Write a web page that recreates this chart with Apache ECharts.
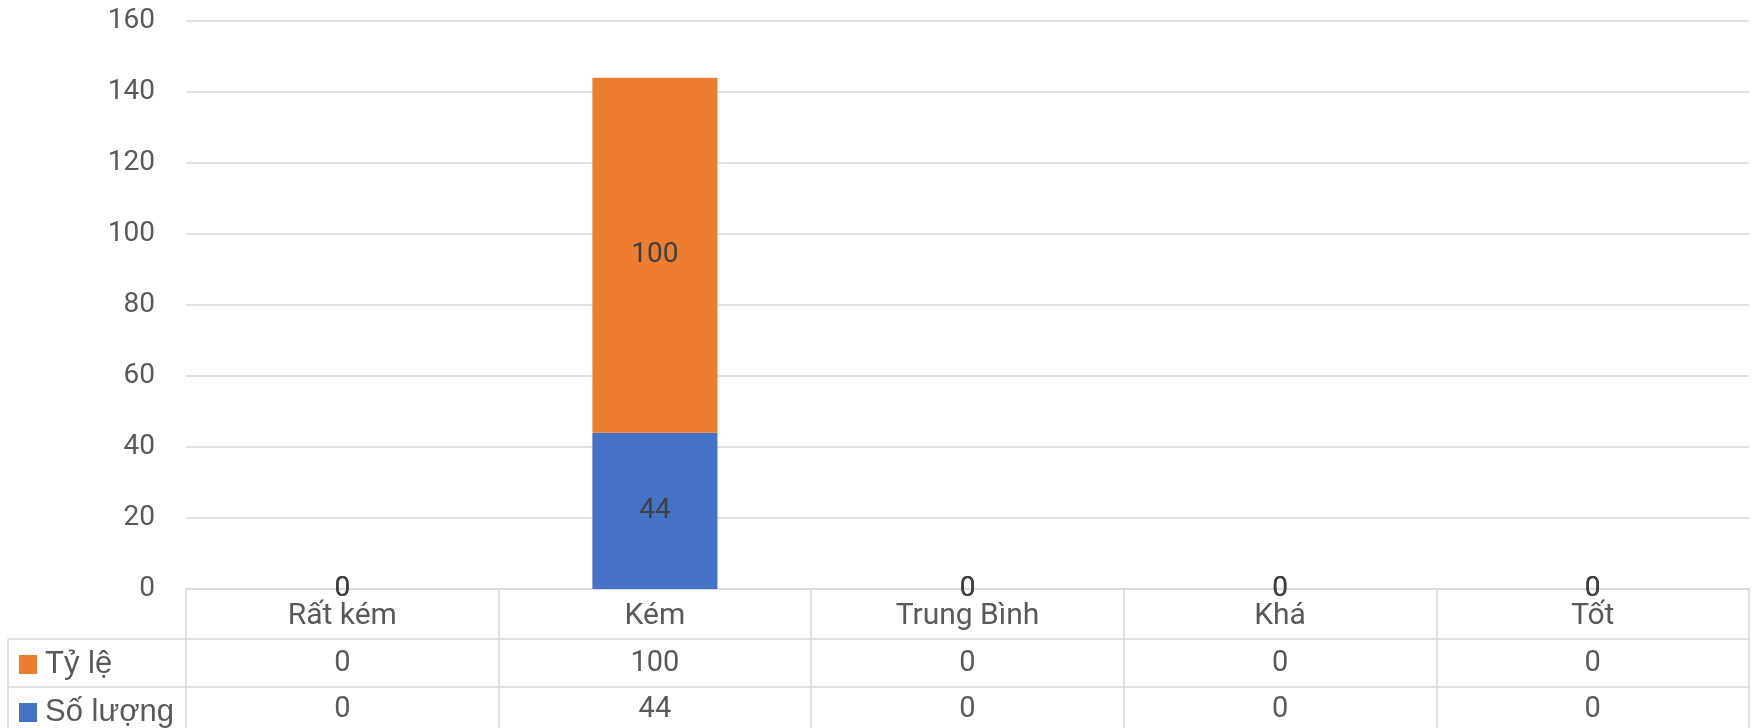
<!DOCTYPE html>
<html>
<head>
<meta charset="utf-8">
<script src="https://cdn.jsdelivr.net/npm/echarts@6/dist/echarts.min.js"></script>
<style>
  html, body { margin: 0; padding: 0; background: #fff; }
  #main { width: 1754px; height: 728px; }
</style>
</head>
<body>
<div id="main"></div>
<script>
// chart data
const categories = ["Rất kém", "Kém", "Trung Bình", "Khá", "Tốt"];
const soLuong = [0, 44, 0, 0, 0];
const tyLe = [0, 100, 0, 0, 0];
const yTicks = [0, 20, 40, 60, 80, 100, 120, 140, 160];

const chartDom = document.getElementById("main");
const myChart = echarts.init(chartDom);

const font = "Roboto, 'Noto Sans', sans-serif";
const legendFont = "'Liberation Sans', Arial, sans-serif";
const gridColor = "#D9D9D9";
const textColor = "#595959";

// one extra x axis per table row, drawn under the plot
const tableAxis = (values, offset, margin) => ({
  type: "category",
  data: categories,
  position: "bottom",
  offset: offset,
  axisLine: { show: true, lineStyle: { color: gridColor, width: 1.5 } },
  axisTick: { show: false },
  splitLine: { show: false },
  axisLabel: {
    interval: 0,
    margin: margin,
    verticalAlign: "middle",
    color: textColor,
    fontFamily: font,
    fontSize: 29,
    formatter: (v, i) => String(values[i]),
  },
});

// legend key of one table row
const rowLegend = (name, top) => ({
  data: [name],
  left: 19,
  top: top,
  padding: 0,
  icon: "rect",
  itemWidth: 18,
  itemHeight: 19,
  textStyle: { color: textColor, fontFamily: legendFont, fontSize: 31, padding: [0, 0, 0, 3] },
});

const option = {
  animation: false,
  grid: { left: 186, right: 5, top: 21, bottom: 139, containLabel: false },
  legend: [rowLegend("Tỷ lệ", 649), rowLegend("Số lượng", 697)],
  xAxis: [
    {
      type: "category",
      data: categories,
      position: "bottom",
      axisLine: { show: true, lineStyle: { color: gridColor, width: 1.5 } },
      axisTick: { show: true, length: 139, lineStyle: { color: gridColor, width: 1.5 } },
      splitLine: { show: false },
      axisLabel: {
        interval: 0,
        margin: 27,
        verticalAlign: "middle",
        color: textColor,
        fontFamily: font,
        fontSize: 30,
      },
    },
    tableAxis(tyLe, 50, 25),
    tableAxis(soLuong, 98, 23),
  ],
  yAxis: {
    type: "value",
    min: yTicks[0],
    max: yTicks[yTicks.length - 1],
    interval: 20,
    axisLine: { show: false },
    axisTick: { show: false },
    splitLine: { lineStyle: { color: gridColor, width: 1.5 } },
    axisLabel: { margin: 31, color: textColor, fontFamily: font, fontSize: 28 },
  },
  series: [
    {
      name: "Số lượng",
      type: "bar",
      stack: "total",
      data: soLuong,
      barWidth: "40%",
      itemStyle: { color: "#4472C4" },
      label: { show: true, position: "inside", color: "#404040", fontFamily: font, fontSize: 28 },
    },
    {
      name: "Tỷ lệ",
      type: "bar",
      stack: "total",
      data: tyLe,
      barWidth: "40%",
      itemStyle: { color: "#ED7D31" },
      label: { show: true, position: "inside", color: "#404040", fontFamily: font, fontSize: 28 },
    },
  ],
  // borders of the legend column of the data table
  graphic: [
    { type: "line", shape: { x1: 8, y1: 639, x2: 186, y2: 639 }, style: { stroke: gridColor, lineWidth: 1.5 } },
    { type: "line", shape: { x1: 8, y1: 687, x2: 186, y2: 687 }, style: { stroke: gridColor, lineWidth: 1.5 } },
    { type: "line", shape: { x1: 8, y1: 639, x2: 8, y2: 728 }, style: { stroke: gridColor, lineWidth: 1.5 } },
  ],
};

option && myChart.setOption(option);
</script>
</body>
</html>
